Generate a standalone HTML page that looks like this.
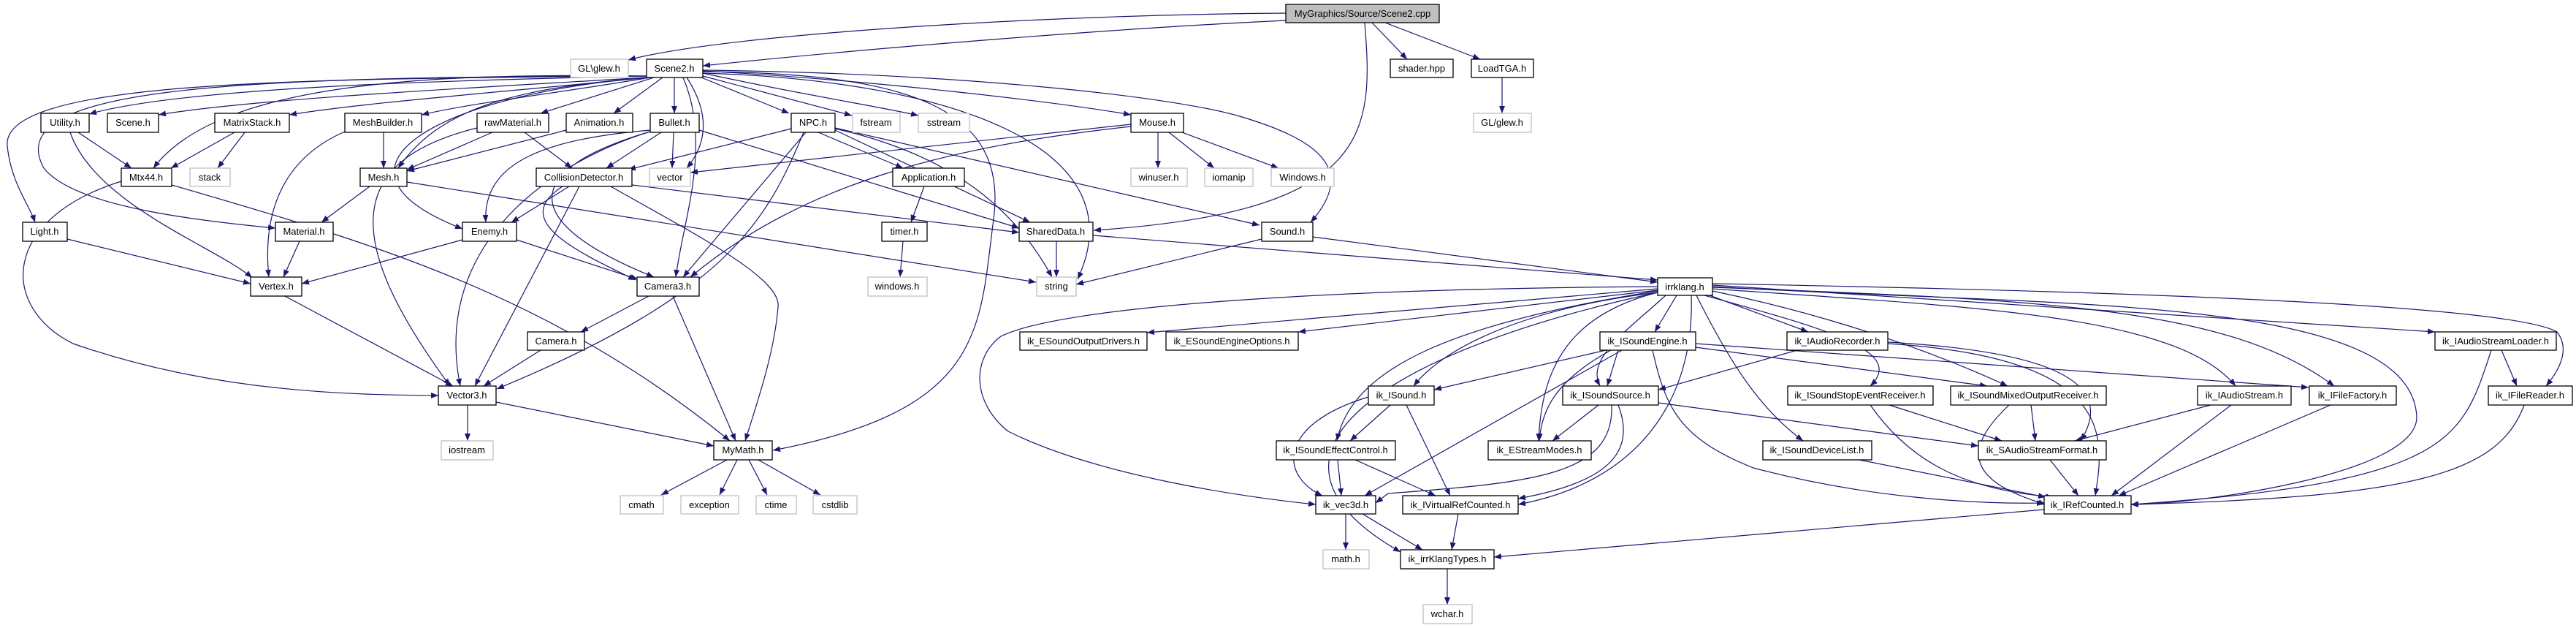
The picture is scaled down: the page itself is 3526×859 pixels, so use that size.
<!DOCTYPE html>
<html><head><meta charset="utf-8"><style>
html,body{margin:0;padding:0;background:#fff;width:3526px;height:859px;overflow:hidden}
svg{display:block}
text{font-family:"Liberation Sans",sans-serif;font-size:13px;text-anchor:middle;fill:#000}
.e path{fill:none;stroke:#191970;stroke-width:1.2}
.n rect{fill:#fff;stroke:#000;stroke-width:1.3}
.g rect{fill:#fff;stroke:#bfbfbf;stroke-width:1.3}
</style></head><body>
<svg width="3526" height="859" viewBox="0 0 3526 859" xmlns="http://www.w3.org/2000/svg">
<defs><marker id="a" markerUnits="userSpaceOnUse" markerWidth="11" markerHeight="8" refX="10" refY="4" orient="auto"><path d="M0,0 L10,4 L0,8 z" fill="#191970"/></marker></defs>
<g class="e" marker-end="url(#a)">
<path d="M1760,18 C1450,20 1000,45 860,82" marker-end="url(#a)"/>
<path d="M1760,28 C1500,40 1150,70 962,90" marker-end="url(#a)"/>
<path d="M1878,31 L1926,81" marker-end="url(#a)"/>
<path d="M1896,31 L2026,81" marker-end="url(#a)"/>
<path d="M1868,31 C1880,180 1880,290 1497,315" marker-end="url(#a)"/>
<path d="M2056,106 L2056,155" marker-end="url(#a)"/>
<path d="M885,104 C600,110 250,120 122,156" marker-end="url(#a)"/>
<path d="M885,106 C650,120 350,135 217,157" marker-end="url(#a)"/>
<path d="M887,106 C700,125 500,140 396,157" marker-end="url(#a)"/>
<path d="M890,106 C780,125 650,140 577,157" marker-end="url(#a)"/>
<path d="M895,106 L740,155" marker-end="url(#a)"/>
<path d="M907,106 L840,155" marker-end="url(#a)"/>
<path d="M923,106 L923,155" marker-end="url(#a)"/>
<path d="M960,106 L1080,155" marker-end="url(#a)"/>
<path d="M962,104 L1166,158" marker-end="url(#a)"/>
<path d="M962,100 C1100,130 1200,145 1257,158" marker-end="url(#a)"/>
<path d="M962,97 C1200,110 1450,140 1548,157" marker-end="url(#a)"/>
<path d="M885,104 C600,100 300,110 210,230" marker-end="url(#a)"/>
<path d="M890,106 C700,120 600,150 545,230" marker-end="url(#a)"/>
<path d="M940,106 C975,160 965,200 940,230" marker-end="url(#a)"/>
<path d="M885,106 C600,130 420,230 633,313" marker-end="url(#a)"/>
<path d="M885,104 C400,108 0,110 10,200 C15,250 40,280 48,304" marker-end="url(#a)"/>
<path d="M885,104 C300,105 0,120 60,230 C100,280 250,300 377,312" marker-end="url(#a)"/>
<path d="M935,106 C975,200 935,300 925,379" marker-end="url(#a)"/>
<path d="M962,100 C1300,110 1560,200 1475,382" marker-end="url(#a)"/>
<path d="M962,98 C1250,100 1380,150 1360,300 C1340,450 1350,560 1058,616" marker-end="url(#a)"/>
<path d="M962,96 C1300,100 1600,130 1700,160 C1800,190 1860,230 1794,304" marker-end="url(#a)"/>
<path d="M107,181 L180,230" marker-end="url(#a)"/>
<path d="M96,181 C130,280 300,340 345,380" marker-end="url(#a)"/>
<path d="M321,181 L234,230" marker-end="url(#a)"/>
<path d="M335,181 L298,230" marker-end="url(#a)"/>
<path d="M525,181 L525,230" marker-end="url(#a)"/>
<path d="M472,180 C380,220 360,300 368,379" marker-end="url(#a)"/>
<path d="M674,181 L557,232" marker-end="url(#a)"/>
<path d="M718,181 L783,230" marker-end="url(#a)"/>
<path d="M653,175 C470,220 470,330 616,528" marker-end="url(#a)"/>
<path d="M775,178 L557,234" marker-end="url(#a)"/>
<path d="M905,181 L830,230" marker-end="url(#a)"/>
<path d="M922,181 L920,230" marker-end="url(#a)"/>
<path d="M890,178 C750,190 660,220 665,304" marker-end="url(#a)"/>
<path d="M890,180 C720,230 700,300 895,379" marker-end="url(#a)"/>
<path d="M890,180 C760,220 590,330 630,528" marker-end="url(#a)"/>
<path d="M957,178 L1395,312" marker-end="url(#a)"/>
<path d="M1083,176 L860,232" marker-end="url(#a)"/>
<path d="M1103,181 L935,379" marker-end="url(#a)"/>
<path d="M1100,181 C1050,300 1000,400 680,532" marker-end="url(#a)"/>
<path d="M1120,181 L1236,230" marker-end="url(#a)"/>
<path d="M1143,178 L1410,304" marker-end="url(#a)"/>
<path d="M1143,176 C1250,200 1370,250 1440,379" marker-end="url(#a)"/>
<path d="M1143,175 L1724,308" marker-end="url(#a)"/>
<path d="M1548,170 L945,236" marker-end="url(#a)"/>
<path d="M1548,173 C1300,200 1100,250 945,379" marker-end="url(#a)"/>
<path d="M1585,181 L1585,230" marker-end="url(#a)"/>
<path d="M1600,181 L1662,230" marker-end="url(#a)"/>
<path d="M1618,181 L1750,230" marker-end="url(#a)"/>
<path d="M235,253 C500,330 750,400 999,603" marker-end="url(#a)"/>
<path d="M166,248 C0,300 0,420 100,470 C300,540 500,540 600,541" marker-end="url(#a)"/>
<path d="M506,255 L440,304" marker-end="url(#a)"/>
<path d="M557,249 L1418,386" marker-end="url(#a)"/>
<path d="M779,255 L700,304" marker-end="url(#a)"/>
<path d="M793,255 L650,528" marker-end="url(#a)"/>
<path d="M770,255 C700,300 780,340 870,383" marker-end="url(#a)"/>
<path d="M836,255 C950,320 1070,380 1065,420 C1060,480 1040,540 1020,603" marker-end="url(#a)"/>
<path d="M865,253 L1395,318" marker-end="url(#a)"/>
<path d="M92,327 L343,388" marker-end="url(#a)"/>
<path d="M410,330 L388,379" marker-end="url(#a)"/>
<path d="M633,328 L413,388" marker-end="url(#a)"/>
<path d="M707,328 L873,382" marker-end="url(#a)"/>
<path d="M390,405 L620,528" marker-end="url(#a)"/>
<path d="M888,405 L795,454" marker-end="url(#a)"/>
<path d="M921,405 L1007,603" marker-end="url(#a)"/>
<path d="M740,479 L662,528" marker-end="url(#a)"/>
<path d="M640,554 L640,603" marker-end="url(#a)"/>
<path d="M679,550 L977,610" marker-end="url(#a)"/>
<path d="M995,629 L905,677" marker-end="url(#a)"/>
<path d="M1009,629 L985,677" marker-end="url(#a)"/>
<path d="M1025,629 L1050,677" marker-end="url(#a)"/>
<path d="M1038,629 L1123,677" marker-end="url(#a)"/>
<path d="M1265,255 L1247,304" marker-end="url(#a)"/>
<path d="M1236,330 L1232,379" marker-end="url(#a)"/>
<path d="M1446,330 L1446,379" marker-end="url(#a)"/>
<path d="M1496,322 L2269,383" marker-end="url(#a)"/>
<path d="M1727,327 L1473,389" marker-end="url(#a)"/>
<path d="M1797,324 L2269,386" marker-end="url(#a)"/>
<path d="M2269,395 L1570,455" marker-end="url(#a)"/>
<path d="M2269,397 L1777,454" marker-end="url(#a)"/>
<path d="M2295,404 L2265,454" marker-end="url(#a)"/>
<path d="M2269,400 C2100,420 1980,470 1935,528" marker-end="url(#a)"/>
<path d="M2269,398 C2000,440 1850,500 1830,603" marker-end="url(#a)"/>
<path d="M2269,400 C2150,430 2110,500 2106,603" marker-end="url(#a)"/>
<path d="M2280,404 C2230,450 2170,490 2190,528" marker-end="url(#a)"/>
<path d="M2269,392 C1800,395 1450,420 1370,460 C1330,490 1330,550 1380,590 C1500,650 1700,680 1801,690" marker-end="url(#a)"/>
<path d="M2269,400 C1900,480 1680,620 1917,755" marker-end="url(#a)"/>
<path d="M2315,404 C2320,550 2240,660 2078,690" marker-end="url(#a)"/>
<path d="M2340,404 L2475,454" marker-end="url(#a)"/>
<path d="M2322,404 C2370,500 2410,560 2468,603" marker-end="url(#a)"/>
<path d="M2333,404 C2500,450 2610,480 2560,528" marker-end="url(#a)"/>
<path d="M2344,398 C2450,420 2600,460 2748,528" marker-end="url(#a)"/>
<path d="M2344,395 C2700,420 2980,430 3060,528" marker-end="url(#a)"/>
<path d="M2344,393 C2800,410 3050,420 3195,528" marker-end="url(#a)"/>
<path d="M2344,390 L3333,454" marker-end="url(#a)"/>
<path d="M2344,388 C3000,400 3440,420 3500,454 C3520,480 3500,510 3485,528" marker-end="url(#a)"/>
<path d="M2344,392 C2800,420 3300,400 3308,570 C3310,650 3000,690 2917,690" marker-end="url(#a)"/>
<path d="M2198,479 L1963,533" marker-end="url(#a)"/>
<path d="M2215,479 L2200,528" marker-end="url(#a)"/>
<path d="M2205,479 C2130,520 2110,560 2107,603" marker-end="url(#a)"/>
<path d="M2220,479 L1868,678" marker-end="url(#a)"/>
<path d="M2321,475 L2720,528" marker-end="url(#a)"/>
<path d="M2321,470 L3160,530" marker-end="url(#a)"/>
<path d="M2262,479 C2280,560 2300,600 2400,640 C2550,680 2700,690 2798,688" marker-end="url(#a)"/>
<path d="M2460,479 L2270,533" marker-end="url(#a)"/>
<path d="M2584,468 C2800,480 2900,520 2848,603" marker-end="url(#a)"/>
<path d="M2584,470 C2900,490 2880,600 2868,678" marker-end="url(#a)"/>
<path d="M1903,554 L1848,603" marker-end="url(#a)"/>
<path d="M1873,543 C1750,580 1750,650 1810,678" marker-end="url(#a)"/>
<path d="M1925,554 L1985,678" marker-end="url(#a)"/>
<path d="M2188,554 L2125,603" marker-end="url(#a)"/>
<path d="M2206,554 C2210,650 2100,660 1900,675 L1883,688" marker-end="url(#a)"/>
<path d="M2215,554 C2240,620 2200,660 2078,682" marker-end="url(#a)"/>
<path d="M2270,551 L2708,610" marker-end="url(#a)"/>
<path d="M1831,629 L1836,678" marker-end="url(#a)"/>
<path d="M1855,629 L1965,678" marker-end="url(#a)"/>
<path d="M1842,703 L1842,752" marker-end="url(#a)"/>
<path d="M1865,703 L1947,752" marker-end="url(#a)"/>
<path d="M1996,703 L1987,752" marker-end="url(#a)"/>
<path d="M1981,778 L1981,827" marker-end="url(#a)"/>
<path d="M2798,697 L2045,762" marker-end="url(#a)"/>
<path d="M2586,554 L2740,603" marker-end="url(#a)"/>
<path d="M2560,554 C2620,640 2700,670 2810,680" marker-end="url(#a)"/>
<path d="M2780,554 L2786,603" marker-end="url(#a)"/>
<path d="M2750,554 C2680,620 2700,660 2800,690" marker-end="url(#a)"/>
<path d="M2545,629 L2800,680" marker-end="url(#a)"/>
<path d="M2806,629 L2845,678" marker-end="url(#a)"/>
<path d="M3026,554 L2840,603" marker-end="url(#a)"/>
<path d="M3054,554 L2890,678" marker-end="url(#a)"/>
<path d="M3190,554 L2900,678" marker-end="url(#a)"/>
<path d="M3424,479 L3445,528" marker-end="url(#a)"/>
<path d="M3410,479 C3370,600 3360,660 2917,690" marker-end="url(#a)"/>
<path d="M3455,554 C3420,650 3300,680 2917,690" marker-end="url(#a)"/>
</g>
<!-- nodes -->
<g class="n"><rect x="1760" y="6" width="210" height="25" style="fill:#bfbfbf"/><text x="1865" y="23">MyGraphics/Source/Scene2.cpp</text></g>
<g class="g"><rect x="781" y="81" width="79" height="25"/><text x="820" y="98" fill="#000">GL\glew.h</text></g>
<g class="n"><rect x="885" y="81" width="77" height="25"/><text x="923" y="98">Scene2.h</text></g>
<g class="n"><rect x="1903" y="81" width="86" height="25"/><text x="1946" y="98">shader.hpp</text></g>
<g class="n"><rect x="2014" y="81" width="85" height="25"/><text x="2056" y="98">LoadTGA.h</text></g>

<g class="n"><rect x="56" y="155" width="66" height="26"/><text x="89" y="172">Utility.h</text></g>
<g class="n"><rect x="147" y="155" width="70" height="26"/><text x="182" y="172">Scene.h</text></g>
<g class="n"><rect x="294" y="155" width="102" height="26"/><text x="345" y="172">MatrixStack.h</text></g>
<g class="n"><rect x="472" y="155" width="105" height="26"/><text x="524" y="172">MeshBuilder.h</text></g>
<g class="n"><rect x="653" y="155" width="98" height="26"/><text x="702" y="172">rawMaterial.h</text></g>
<g class="n"><rect x="775" y="155" width="91" height="26"/><text x="820" y="172">Animation.h</text></g>
<g class="n"><rect x="890" y="155" width="67" height="26"/><text x="923" y="172">Bullet.h</text></g>
<g class="n"><rect x="1083" y="155" width="60" height="26"/><text x="1113" y="172">NPC.h</text></g>
<g class="g"><rect x="1167" y="155" width="65" height="26"/><text x="1199" y="172">fstream</text></g>
<g class="g"><rect x="1257" y="155" width="70" height="26"/><text x="1292" y="172">sstream</text></g>
<g class="n"><rect x="1548" y="155" width="72" height="26"/><text x="1584" y="172">Mouse.h</text></g>
<g class="g"><rect x="2017" y="155" width="79" height="26"/><text x="2056" y="172">GL/glew.h</text></g>

<g class="n"><rect x="166" y="230" width="69" height="25"/><text x="200" y="247">Mtx44.h</text></g>
<g class="g"><rect x="260" y="230" width="55" height="25"/><text x="287" y="247">stack</text></g>
<g class="n"><rect x="493" y="230" width="64" height="25"/><text x="525" y="247">Mesh.h</text></g>
<g class="n"><rect x="734" y="230" width="131" height="25"/><text x="799" y="247">CollisionDetector.h</text></g>
<g class="g"><rect x="889" y="230" width="56" height="25"/><text x="917" y="247">vector</text></g>
<g class="n"><rect x="1222" y="230" width="98" height="25"/><text x="1271" y="247">Application.h</text></g>
<g class="g"><rect x="1548" y="230" width="77" height="25"/><text x="1586" y="247">winuser.h</text></g>
<g class="g"><rect x="1649" y="230" width="66" height="25"/><text x="1682" y="247">iomanip</text></g>
<g class="g"><rect x="1740" y="230" width="86" height="25"/><text x="1783" y="247">Windows.h</text></g>

<g class="n"><rect x="31" y="304" width="61" height="26"/><text x="61" y="321">Light.h</text></g>
<g class="n"><rect x="377" y="304" width="79" height="26"/><text x="416" y="321">Material.h</text></g>
<g class="n"><rect x="633" y="304" width="74" height="26"/><text x="670" y="321">Enemy.h</text></g>
<g class="n"><rect x="1207" y="304" width="62" height="26"/><text x="1238" y="321">timer.h</text></g>
<g class="n"><rect x="1395" y="304" width="101" height="26"/><text x="1445" y="321">SharedData.h</text></g>
<g class="n"><rect x="1727" y="304" width="70" height="26"/><text x="1762" y="321">Sound.h</text></g>

<g class="n"><rect x="343" y="379" width="70" height="26"/><text x="378" y="396">Vertex.h</text></g>
<g class="n"><rect x="872" y="379" width="85" height="26"/><text x="914" y="396">Camera3.h</text></g>
<g class="g"><rect x="1188" y="379" width="81" height="26"/><text x="1228" y="396">windows.h</text></g>
<g class="g"><rect x="1419" y="379" width="54" height="26"/><text x="1446" y="396">string</text></g>
<g class="n"><rect x="2269" y="380" width="75" height="24"/><text x="2306" y="397">irrklang.h</text></g>

<g class="n"><rect x="722" y="454" width="78" height="25"/><text x="761" y="471">Camera.h</text></g>
<g class="n"><rect x="1396" y="454" width="174" height="25"/><text x="1483" y="471">ik_ESoundOutputDrivers.h</text></g>
<g class="n"><rect x="1596" y="454" width="181" height="25"/><text x="1686" y="471">ik_ESoundEngineOptions.h</text></g>
<g class="n"><rect x="2190" y="454" width="131" height="25"/><text x="2255" y="471">ik_ISoundEngine.h</text></g>
<g class="n"><rect x="2446" y="454" width="138" height="25"/><text x="2515" y="471">ik_IAudioRecorder.h</text></g>
<g class="n"><rect x="3333" y="454" width="166" height="25"/><text x="3416" y="471">ik_IAudioStreamLoader.h</text></g>

<g class="n"><rect x="600" y="528" width="79" height="26"/><text x="639" y="545">Vector3.h</text></g>
<g class="n"><rect x="1873" y="528" width="90" height="26"/><text x="1918" y="545">ik_ISound.h</text></g>
<g class="n"><rect x="2139" y="528" width="131" height="26"/><text x="2204" y="545">ik_ISoundSource.h</text></g>
<g class="n"><rect x="2447" y="528" width="199" height="26"/><text x="2546" y="545">ik_ISoundStopEventReceiver.h</text></g>
<g class="n"><rect x="2670" y="528" width="213" height="26"/><text x="2776" y="545">ik_ISoundMixedOutputReceiver.h</text></g>
<g class="n"><rect x="3008" y="528" width="128" height="26"/><text x="3072" y="545">ik_IAudioStream.h</text></g>
<g class="n"><rect x="3161" y="528" width="119" height="26"/><text x="3220" y="545">ik_IFileFactory.h</text></g>
<g class="n"><rect x="3406" y="528" width="115" height="26"/><text x="3463" y="545">ik_IFileReader.h</text></g>

<g class="g"><rect x="604" y="603" width="71" height="26"/><text x="639" y="620">iostream</text></g>
<g class="n"><rect x="977" y="603" width="80" height="26"/><text x="1017" y="620">MyMath.h</text></g>
<g class="n"><rect x="1747" y="603" width="163" height="26"/><text x="1828" y="620">ik_ISoundEffectControl.h</text></g>
<g class="n"><rect x="2037" y="603" width="141" height="26"/><text x="2107" y="620">ik_EStreamModes.h</text></g>
<g class="n"><rect x="2413" y="603" width="149" height="26"/><text x="2487" y="620">ik_ISoundDeviceList.h</text></g>
<g class="n"><rect x="2708" y="603" width="175" height="26"/><text x="2795" y="620">ik_SAudioStreamFormat.h</text></g>

<g class="g"><rect x="849" y="678" width="59" height="25"/><text x="878" y="695">cmath</text></g>
<g class="g"><rect x="932" y="678" width="79" height="25"/><text x="971" y="695">exception</text></g>
<g class="g"><rect x="1035" y="678" width="55" height="25"/><text x="1062" y="695">ctime</text></g>
<g class="g"><rect x="1113" y="678" width="60" height="25"/><text x="1143" y="695">cstdlib</text></g>
<g class="n"><rect x="1801" y="678" width="82" height="25"/><text x="1842" y="695">ik_vec3d.h</text></g>
<g class="n"><rect x="1920" y="678" width="158" height="25"/><text x="1999" y="695">ik_IVirtualRefCounted.h</text></g>
<g class="n"><rect x="2798" y="678" width="119" height="25"/><text x="2857" y="695">ik_IRefCounted.h</text></g>

<g class="g"><rect x="1811" y="752" width="63" height="26"/><text x="1842" y="769">math.h</text></g>
<g class="n"><rect x="1917" y="752" width="128" height="26"/><text x="1981" y="769">ik_irrKlangTypes.h</text></g>
<g class="g"><rect x="1948" y="827" width="67" height="26"/><text x="1981" y="844">wchar.h</text></g>
</svg>
</body></html>
